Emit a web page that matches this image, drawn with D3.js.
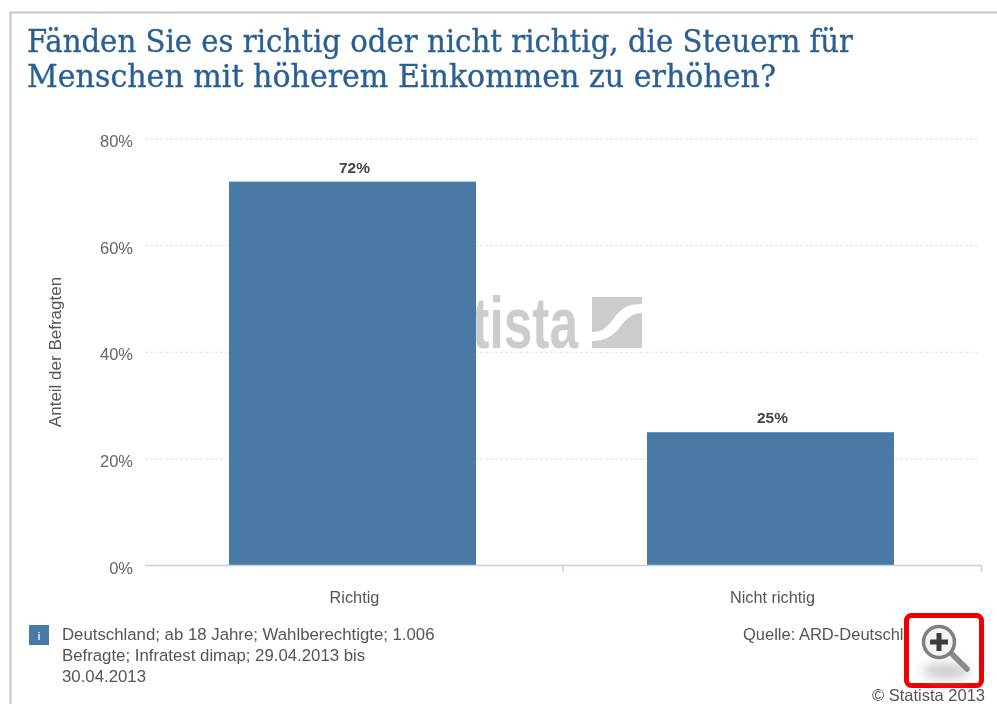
<!DOCTYPE html>
<html>
<head>
<meta charset="utf-8">
<script src="https://cdnjs.cloudflare.com/ajax/libs/d3/7.8.5/d3.min.js"></script>
<style>
  html, body { margin: 0; padding: 0; background: #fff; overflow: hidden; }
  text { font-family: "Liberation Sans", Arial, sans-serif; }
</style>
</head>
<body>
<div id="chart-area"></div>
<script>
var categories = ["Richtig", "Nicht richtig"];
var values = [72, 25];
var yTicks = [0, 20, 40, 60, 80];
var titleLines = ["Fänden Sie es richtig oder nicht richtig, die Steuern für", "Menschen mit höherem Einkommen zu erhöhen?"];
var titleWidths = [826, 749];
var noteLines = ["Deutschland; ab 18 Jahre; Wahlberechtigte; 1.006", "Befragte; Infratest dimap; 29.04.2013 bis", "30.04.2013"];

var svg = d3.select("#chart-area").append("svg")
    .attr("width", 997)
    .attr("height", 704);

// slight blur, the reference is an upscaled screenshot
var defs = svg.append("defs");
defs.append("filter").attr("id", "soft").append("feGaussianBlur").attr("stdDeviation", 0.55);
defs.append("filter").attr("id", "shadow")
    .attr("x", "-50%").attr("y", "-100%").attr("width", "200%").attr("height", "300%")
    .append("feGaussianBlur").attr("stdDeviation", 6);

var root = svg.append("g").attr("filter", "url(#soft)");

// frame, only top and left are visible
root.append("path")
    .attr("d", "M10.5,704V12.5H997")
    .attr("fill", "none")
    .attr("stroke", "#c8c8c8")
    .attr("stroke-width", 2);

root.selectAll("text.title")
    .data(titleLines)
    .enter()
    .append("text")
    .attr("class", "title")
    .attr("x", 27)
    .attr("y", (d, i) => 52 + i * 35)
    .attr("fill", "#2a5f92")
    .attr("stroke", "#2a5f92")
    .attr("stroke-width", 0.35)
    .attr("font-size", "31px")
    .attr("textLength", (d, i) => titleWidths[i])
    .attr("lengthAdjust", "spacingAndGlyphs")
    .style("font-family", "'DejaVu Serif', serif")
    .text(d => d);

var x = d3.scaleBand()
    .domain(categories)
    .range([145.4, 977.6])
    .paddingInner(0.409)
    .paddingOuter(0.2);

var y = d3.scaleLinear()
    .domain([0, 80])
    .range([565.5, 139]);

// watermark sits behind the bars
var wm = root.append("g").attr("fill", "#cccccc");
wm.append("text")
    .attr("x", 398)
    .attr("y", 348)
    .attr("font-size", "72px")
    .attr("font-weight", "bold")
    .attr("textLength", 180)
    .attr("lengthAdjust", "spacingAndGlyphs")
    .text("statista");
wm.append("path")
    .attr("d", "M592,297H642V304C620,304 618,315 610,323C604,330 600,332 592,332Z M642,313V348H592V341C606,341 614,335 620,327C627,318 633,313 642,313Z");

// gridlines
root.selectAll("line.grid")
    .data(yTicks.filter(d => d > 0))
    .enter()
    .append("line")
    .attr("class", "grid")
    .attr("x1", 145)
    .attr("x2", 980)
    .attr("y1", d => y(d))
    .attr("y2", d => y(d))
    .attr("stroke", "#e2e2e2")
    .attr("stroke-dasharray", "3,2");

root.selectAll("text.ytick")
    .data(yTicks)
    .enter()
    .append("text")
    .attr("class", "ytick")
    .attr("x", 133)
    .attr("y", d => y(d) + 8)
    .attr("text-anchor", "end")
    .attr("font-size", "16.5px")
    .attr("fill", "#666")
    .text(d => d + "%");

root.selectAll("rect.bar")
    .data(values)
    .enter()
    .append("rect")
    .attr("class", "bar")
    .attr("x", (d, i) => x(categories[i]))
    .attr("y", d => y(d))
    .attr("width", x.bandwidth())
    .attr("height", d => y(0) - y(d))
    .attr("fill", "#4a7aa5");

root.selectAll("text.val")
    .data(values)
    .enter()
    .append("text")
    .attr("class", "val")
    .attr("x", (d, i) => x(categories[i]) + x.bandwidth() / 2 + 2)
    .attr("y", d => y(d) - 9)
    .attr("text-anchor", "middle")
    .attr("font-size", "15.5px")
    .attr("font-weight", "bold")
    .attr("fill", "#444")
    .text(d => d + "%");

// x axis line with the middle and end ticks
root.append("path")
    .attr("d", "M145,565.5H981.5V572 M563,565.5V572")
    .attr("fill", "none")
    .attr("stroke", "#c4d2e2")
    .attr("stroke-width", 1.5);

root.selectAll("text.cat")
    .data(categories)
    .enter()
    .append("text")
    .attr("class", "cat")
    .attr("x", d => x(d) + x.bandwidth() / 2 + 2)
    .attr("y", 603)
    .attr("text-anchor", "middle")
    .attr("font-size", "16.3px")
    .attr("fill", "#555")
    .text(d => d);

root.append("text")
    .attr("transform", "translate(61,352) rotate(-90)")
    .attr("text-anchor", "middle")
    .attr("font-size", "17px")
    .attr("fill", "#555")
    .text("Anteil der Befragten");

// note badge and text
root.append("rect")
    .attr("x", 29).attr("y", 625)
    .attr("width", 20).attr("height", 20)
    .attr("fill", "#4a7aa5");
root.append("text")
    .attr("x", 39).attr("y", 640)
    .attr("text-anchor", "middle")
    .attr("font-size", "11px")
    .attr("font-weight", "bold")
    .attr("fill", "#dfe8f0")
    .text("i");

root.selectAll("text.note")
    .data(noteLines)
    .enter()
    .append("text")
    .attr("class", "note")
    .attr("x", 62)
    .attr("y", (d, i) => 640 + i * 21)
    .attr("font-size", "16.8px")
    .attr("fill", "#555")
    .text(d => d);

root.append("text")
    .attr("x", 743).attr("y", 640)
    .attr("font-size", "16.5px")
    .attr("fill", "#555")
    .text("Quelle: ARD-Deutschl");

root.append("text")
    .attr("x", 985).attr("y", 701)
    .attr("text-anchor", "end")
    .attr("font-size", "16.5px")
    .attr("fill", "#555")
    .text("© Statista 2013");

// zoom button
var zoomBtn = root.append("g");
zoomBtn.append("rect")
    .attr("x", 906.5).attr("y", 615.5)
    .attr("width", 75).attr("height", 70)
    .attr("rx", 5)
    .attr("fill", "#fff")
    .attr("stroke", "#ee0000")
    .attr("stroke-width", 5);
zoomBtn.append("ellipse")
    .attr("cx", 946).attr("cy", 671)
    .attr("rx", 24).attr("ry", 7)
    .attr("fill", "#c4c4c4")
    .attr("filter", "url(#shadow)");
zoomBtn.append("line")
    .attr("x1", 951).attr("y1", 653)
    .attr("x2", 967).attr("y2", 669)
    .attr("stroke", "#8a8a8a")
    .attr("stroke-width", 5.5)
    .attr("stroke-linecap", "round");
zoomBtn.append("circle")
    .attr("cx", 939).attr("cy", 642)
    .attr("r", 15.5)
    .attr("fill", "#f4f4f4")
    .attr("stroke", "#808080")
    .attr("stroke-width", 3.5);
zoomBtn.append("path")
    .attr("d", "M930,642H948M939,633V651")
    .attr("stroke", "#3c3c3c")
    .attr("stroke-width", 5);
</script>
</body>
</html>
